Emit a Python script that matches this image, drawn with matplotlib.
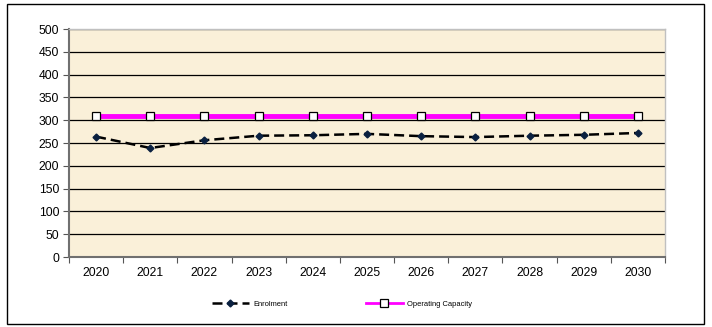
import matplotlib.pyplot as plt
from matplotlib.patches import Rectangle

years = ['2020', '2021', '2022', '2023', '2024', '2025', '2026', '2027', '2028', '2029', '2030']
enrolment = [264, 239, 256, 266, 267, 270, 265, 263, 266, 268, 272]
capacity = [310] * 11

plt.rcParams['font.family'] = ['Liberation Sans', 'DejaVu Sans']

fig = plt.figure(figsize=(7.12, 3.27), dpi=100)
ax = fig.add_axes([69 / 712, 1 - 257 / 327, (665 - 69) / 712, (257 - 29) / 327])

# outer chart border
fig.patches.append(Rectangle((7 / 712, 3 / 327), 697 / 712, 320 / 327, transform=fig.transFigure,
                             fill=False, edgecolor='black', linewidth=1))

ax.set_facecolor('#faf0d9')
x = list(range(len(years)))

ax.plot(x, capacity, color='#ff00ff', linewidth=3.5, marker='s', markersize=5.5,
        markerfacecolor='white', markeredgecolor='black', markeredgewidth=0.9,
        label='Operating Capacity', zorder=3)
ax.plot(x, enrolment, color='black', linewidth=1.8, linestyle=(0, (4, 2)), marker='D',
        markersize=3.5, markerfacecolor='#0a2040', markeredgecolor='#0a2040',
        label='Enrolment', zorder=4)

ax.set_xlim(-0.5, len(years) - 0.5)
ax.set_ylim(0, 500)
ax.set_yticks(range(0, 501, 50))
ax.yaxis.grid(True, color='black', linewidth=0.9)
ax.set_axisbelow(True)

ax.set_xticks([i - 0.5 for i in range(len(years) + 1)])
ax.set_xticklabels([])
ax.set_xticks(x, minor=True)
ax.set_xticklabels(years, minor=True)
ax.tick_params(axis='x', which='minor', length=0, pad=7, labelsize=8.7)
ax.tick_params(axis='x', which='major', length=4, direction='out', color='#555555')
ax.tick_params(axis='y', length=4, direction='out', labelsize=8.7, color='#555555', pad=3)

for side in ['left', 'bottom']:
    ax.spines[side].set_color('#707070')
    ax.spines[side].set_linewidth(1.5)
for side in ['top', 'right']:
    ax.spines[side].set_color('#c0c0c0')
    ax.spines[side].set_linewidth(1)

handles, labels = ax.get_legend_handles_labels()
leg = fig.legend(handles[::-1], labels[::-1], loc='center', bbox_to_anchor=(342 / 712, 1 - 304 / 327),
                 ncol=2, frameon=False, fontsize=5.4, columnspacing=10.5, handlelength=4.9,
                 handletextpad=0.6)
leg.get_lines()[1].set_linewidth(2)

fig.savefig('out.png', dpi=100)
